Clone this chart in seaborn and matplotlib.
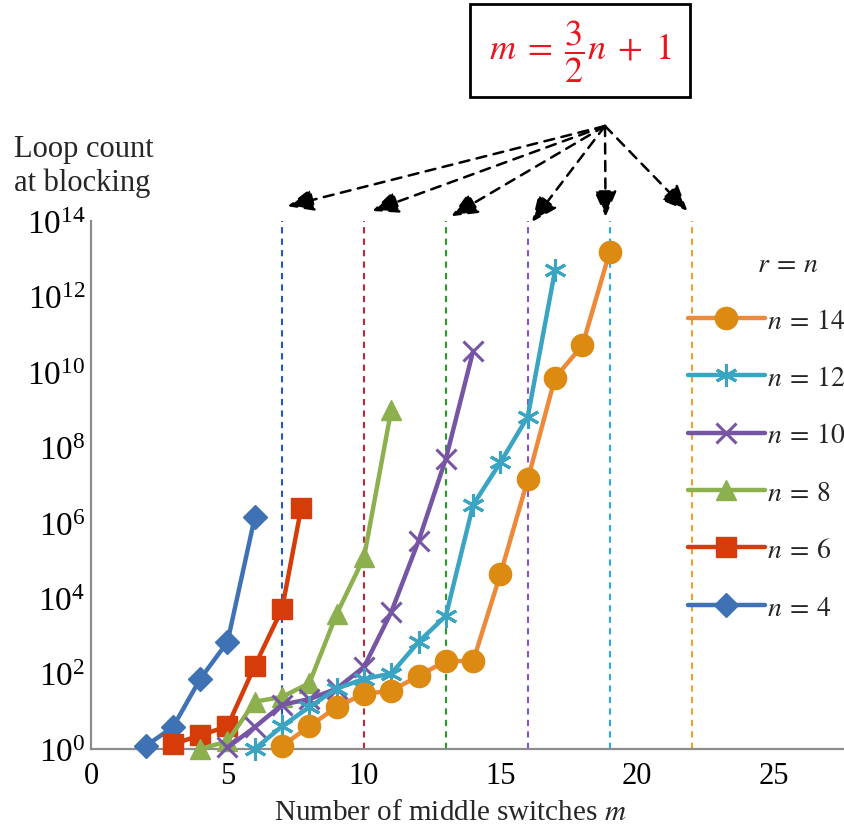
import matplotlib
matplotlib.use("Agg")
import matplotlib.pyplot as plt
from matplotlib.patches import Rectangle
import seaborn as sns
import pandas as pd

# ---------------- data ----------------
n4_m = [2, 3, 4, 5, 6]
n4_loops = [1.2, 3.8, 72, 690, 1.4e6]

n6_m = [3, 4, 5, 6, 7, 7.7]
n6_loops = [1.35, 2.3, 4, 160, 5200, 2.5e6]

n8_m = [4, 5, 6, 7, 8, 9, 10, 11]
n8_loops = [1, 1.6, 18, 24, 56, 3800, 1.2e5, 1e9]

n10_m = [5, 6, 7, 8, 9, 10, 11, 12, 13, 14]
n10_loops = [1.1, 3.8, 15, 21, 40, 150, 4300, 3.3e5, 5e7, 3.6e10]

n12_m = [6, 7, 8, 9, 10, 11, 12, 13, 14, 15, 16, 17]
n12_loops = [1, 4, 13, 40, 72, 100, 690, 3400, 3e6, 4e7, 6.5e8, 5e12]

n14_m = [7, 8, 9, 10, 11, 12, 13, 14, 15, 16, 17, 18, 19]
n14_loops = [1.2, 4, 13, 29, 35, 87, 215, 215, 4.4e4, 1.4e7, 7e9, 5e10, 1.5e13]

series_labels = [r"$n\:=\:4$", r"$n\:=\:6$", r"$n\:=\:8$", r"$n\:=\:10$",
                 r"$n\:=\:12$", r"$n\:=\:14$"]
legend_title = r"$r\:=\:n$"
limit_m = [7, 10, 13, 16, 19, 22]          # m = 3/2 n + 1
x_ticks = [0, 5, 10, 15, 20, 25]
y_ticks = [1e0, 1e2, 1e4, 1e6, 1e8, 1e10, 1e12, 1e14]

# ---------------- style ----------------
sns.set_style("white")
plt.rcParams["font.family"] = ["Liberation Serif", "DejaVu Serif"]
plt.rcParams["mathtext.fontset"] = "stix"

line_colors = ["#3E72B4", "#D63C0A", "#8CB04E", "#7655A4", "#3AA5C2", "#EC8A3A"]
marker_colors = ["#3E72B4", "#D63C0A", "#8CB04E", "#7655A4", "#3AA5C2", "#DC8A12"]
markers = ["D", "s", "^", "x", (6, 2, 0), "o"]
msizes = [12, 15, 15, 15, 16, 16]
limit_colors = ["#2255C8", "#C0283A", "#22A022", "#8A50D0", "#30A8E8", "#F0A030"]

fig = plt.figure(figsize=(8.45, 8.37), dpi=100)
ax = fig.add_axes([91 / 845, 87 / 837, 754 / 845, 528 / 837])

all_series = [(n4_m, n4_loops), (n6_m, n6_loops), (n8_m, n8_loops),
              (n10_m, n10_loops), (n12_m, n12_loops), (n14_m, n14_loops)]

for (mv, lv), lab, lc, mc, mk, ms in zip(all_series, series_labels, line_colors,
                                         marker_colors, markers, msizes):
    df = pd.DataFrame({"m": mv, "loops": lv})
    thin = (mk == "x") or isinstance(mk, tuple)
    sns.lineplot(data=df, x="m", y="loops", ax=ax, color=lc, lw=3.2,
                 marker=mk, markersize=ms, markerfacecolor=mc,
                 markeredgecolor=mc, markeredgewidth=2.2 if thin else 1,
                 label=lab, estimator=None, sort=False, clip_on=False, zorder=3)

for m, c in zip(limit_m, limit_colors):
    ax.axvline(m, color=c, lw=1.5, ls=(0, (3, 2.5)), zorder=1)

ax.set_yscale("log")
ax.set_ylim(1, 1e14)
ax.set_xlim(0, 27.62)
ax.set_yticks(y_ticks)
ax.minorticks_off()
ax.set_xticks(x_ticks)
ax.set_xticklabels([str(t) for t in x_ticks])

for s in ["top", "right"]:
    ax.spines[s].set_visible(False)
for s in ["left", "bottom"]:
    ax.spines[s].set_color("#8C8C8C")
    ax.spines[s].set_linewidth(1.6)
ax.tick_params(axis="both", direction="in", length=8, width=1.6, color="#8C8C8C",
               labelcolor="black")
ax.tick_params(axis="y", pad=4, labelsize=24)
ax.tick_params(axis="x", pad=9, labelsize=22)

ax.set_xlabel("Number of middle switches $m$", fontsize=21, labelpad=6)
ax.xaxis.label.set_x(0.476)
ax.set_ylabel("")
fig.text(14 / 845, 1 - 166 / 837, "Loop count\nat blocking", fontsize=22,
         ha="left", va="center", linespacing=1.2)

# legend
handles, labels = ax.get_legend_handles_labels()
leg = ax.legend(handles[::-1], labels[::-1], loc="upper left",
                bbox_to_anchor=(0.792, 0.835), frameon=False,
                fontsize=20, handlelength=2.75,
                handletextpad=0.1, labelspacing=1.15, borderaxespad=0,
                borderpad=0)
fig.text(788 / 845, 1 - 265 / 837, legend_title, fontsize=20,
         ha="center", va="center")

# formula box
fig.patches.append(Rectangle((470 / 845, 1 - 98 / 837), 220 / 845, 93 / 837,
                             transform=fig.transFigure, fill=False,
                             edgecolor="black", lw=2))
fig.text(580 / 845, 1 - 52 / 837, r"$m\;=\;\dfrac{3}{2}n\;+\;1$", color="#E8141E",
         fontsize=26, ha="center", va="center")

# arrows from formula box to limit lines
apex = (605 / 845, 1 - 127 / 837)
arrow_tip_x = [7.2, 10.3, 13.2, 16.15, 18.85, 21.85]
arrow_tip_y = [1.028, 1.019, 1.009, 0.998, 1.008, 1.019]
for tx, ty in zip(arrow_tip_x, arrow_tip_y):
    ax.annotate("", xy=(tx, ty), xycoords=("data", "axes fraction"),
                xytext=apex, textcoords="figure fraction",
                arrowprops=dict(arrowstyle="-|>,head_length=0.8,head_width=0.35",
                                ls=(0, (4, 3)), lw=1.8, color="black",
                                shrinkA=0, shrinkB=0, mutation_scale=20),
                annotation_clip=False)

fig.savefig("out.png", dpi=100)
